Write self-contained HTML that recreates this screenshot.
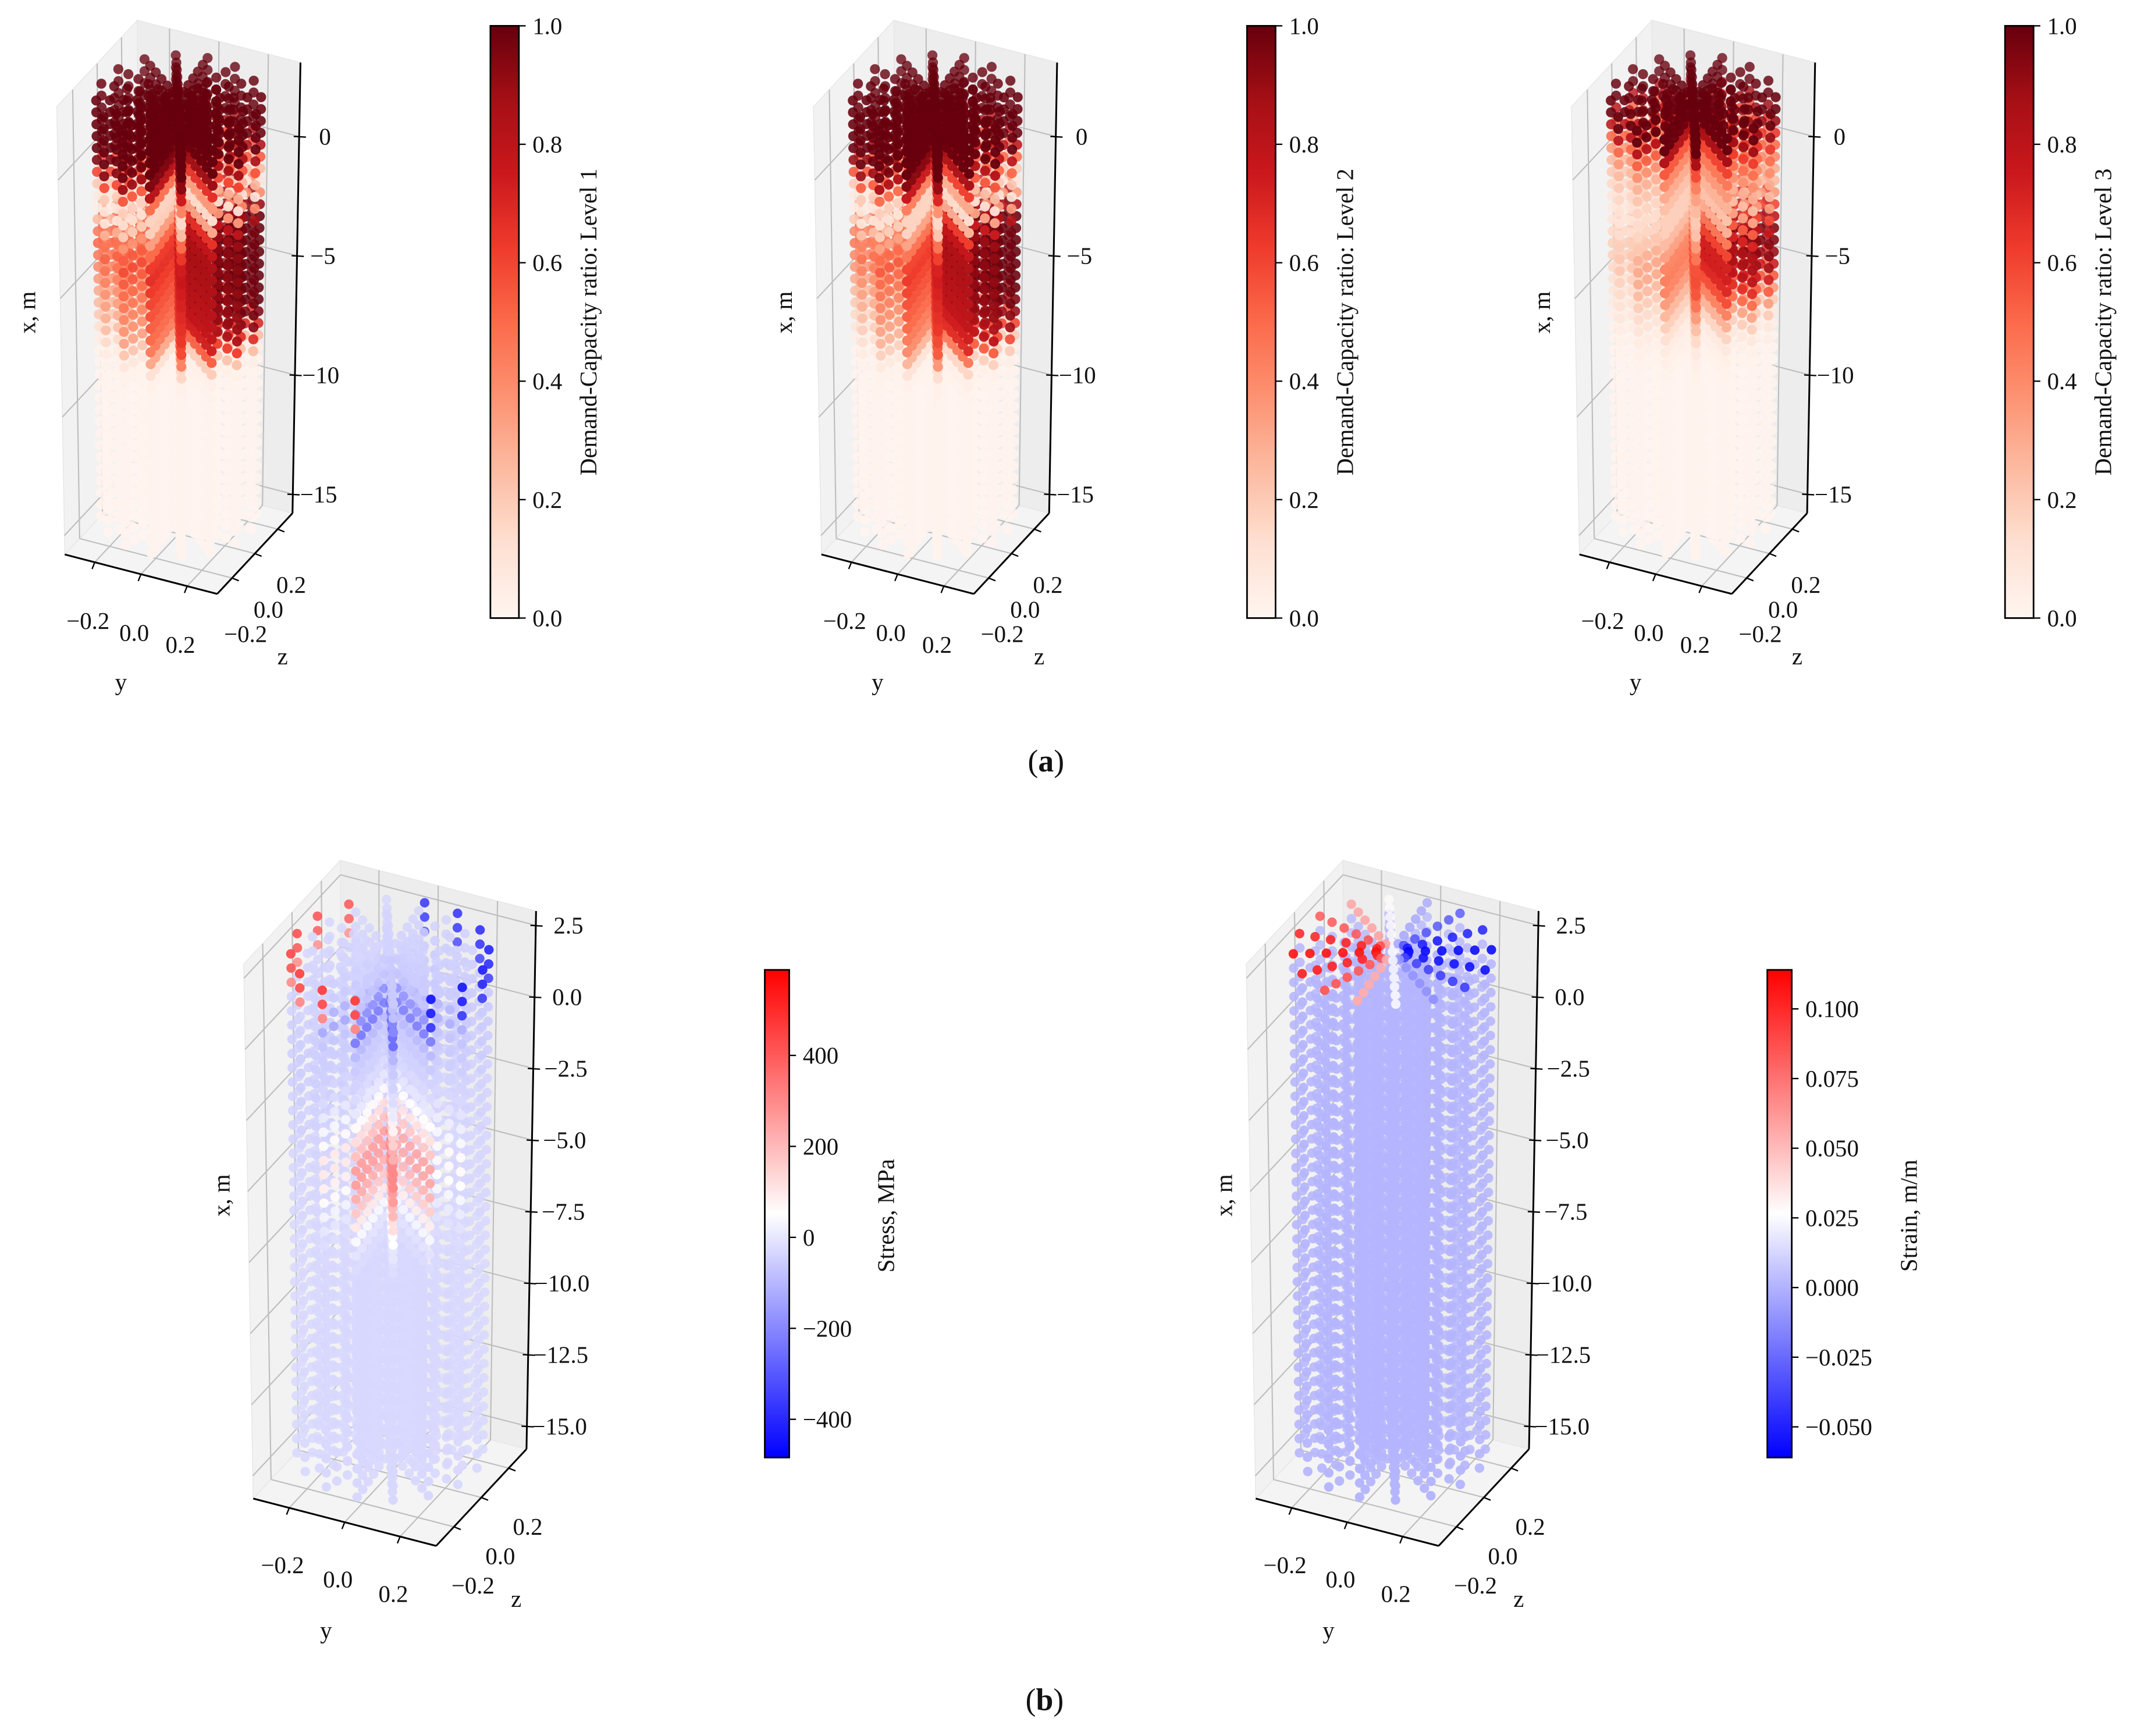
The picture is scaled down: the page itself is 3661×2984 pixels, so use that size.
<!DOCTYPE html>
<html><head><meta charset="utf-8"><style>
html,body{margin:0;padding:0;background:#fff;}
svg{display:block;}
text{font-family:"Liberation Serif",serif;fill:#111;}
</style></head><body>
<svg id="fig" xmlns="http://www.w3.org/2000/svg" width="3661" height="2984" viewBox="0 0 1568 1278">
<rect x="0" y="0" width="1568" height="1278" fill="#fff"/>
<g id="layer"></g>
<text x="770" y="568" text-anchor="middle" font-size="23">(<tspan font-weight="bold">a</tspan>)</text>
<text x="769" y="1259" text-anchor="middle" font-size="23">(<tspan font-weight="bold">b</tspan>)</text>
</svg>
<script>
// ---- data ----
const levelsX = [2.5,2,1.5,1,0.5,0,-0.5,-1,-1.5,-2,-2.5,-3,-3.5,-4,-4.5,-5,-5.5,-6,-6.5,-7,-7.5,-8,-8.5,-9,-9.5,-10,-10.5,-11,-11.5,-12,-12.5,-13,-13.5,-14,-14.5,-15];
const a1Left  = [1,1,1,1,1,0.95,0.6,0.2,0.08,0.06,0.25,0.45,0.5,0.45,0.4,0.35,0.3,0.25,0.2,0.12,0.05,0.02,0.01,0.01,0.01,0.01,0.01,0.01,0.01,0.01,0.01,0.01,0.01,0.01,0.01,0.01];
const a1Right = [1,1,1,1,0.85,0.55,0.25,0.1,0.4,0.9,1,1,1,1,1,1,1,1,0.95,0.7,0.25,0.04,0.02,0.01,0.01,0.01,0.01,0.01,0.01,0.01,0.01,0.01,0.01,0.01,0.01,0.01];
const a2Left  = [1,1,1,1,1,0.9,0.55,0.2,0.07,0.06,0.2,0.4,0.45,0.4,0.35,0.3,0.25,0.2,0.15,0.1,0.05,0.02,0.01,0.01,0.01,0.01,0.01,0.01,0.01,0.01,0.01,0.01,0.01,0.01,0.01,0.01];
const a2Right = [1,1,1,1,0.8,0.5,0.2,0.1,0.35,0.85,1,1,1,1,1,1,1,0.95,0.9,0.6,0.2,0.04,0.02,0.01,0.01,0.01,0.01,0.01,0.01,0.01,0.01,0.01,0.01,0.01,0.01,0.01];
const a3Left  = [1,1,0.8,0.5,0.35,0.25,0.2,0.15,0.1,0.08,0.1,0.15,0.18,0.18,0.15,0.12,0.1,0.08,0.05,0.03,0.02,0.01,0.01,0.01,0.01,0.01,0.01,0.01,0.01,0.01,0.01,0.01,0.01,0.01,0.01,0.01];
const a3Right = [1,1,0.9,0.65,0.5,0.4,0.3,0.25,0.35,0.6,0.8,0.95,0.95,0.9,0.75,0.55,0.35,0.2,0.08,0.04,0.02,0.01,0.01,0.01,0.01,0.01,0.01,0.01,0.01,0.01,0.01,0.01,0.01,0.01,0.01,0.01];
const stressLeft  = [-35,-40,-40,-40,-45,-50,-50,-50,-50,-50,-45,-45,-40,-40,-35,-35,-35,-35,-35,-30,-30,-30,-30,-30,-30,-30,-30,-30,-30,-30,-30,-30,-30,-30,-30,-30];
const stressRight = [-45,-50,-60,-60,-60,-60,-55,-50,-45,-40,-40,-40,-35,-35,-35,-35,-35,-35,-30,-30,-30,-30,-30,-30,-30,-30,-30,-30,-30,-30,-30,-30,-30,-30,-30,-30];
const stressRimLeft  = [450,420,300,0,0,0,0,0,0,0,0,0,0,0,0,0,0,0,0,0,0,0,0,0,0,0,0,0,0,0,0,0,0,0,0,0];
const stressRimRight = [-420,-400,-350,0,0,0,0,0,0,0,0,0,0,0,0,0,0,0,0,0,0,0,0,0,0,0,0,0,0,0,0,0,0,0,0,0];
const stressNear  = [-60,-80,-200,-250,-100,-60,-40,-20,10,80,150,220,300,300,260,200,120,50,0,-20,-30,-30,-30,-30,-30,-30,-30,-30,-30,-30,-30,-30,-30,-30,-30,-30];
const strainLeft  = [0.11,0.001,0.001,0.001,0.001,0.001,0.001,0.001,0.001,0.001,0.001,0.001,0.001,0.001,0.001,0.001,0.001,0.001,0.001,0.001,0.001,0.001,0.001,0.001,0.001,0.001,0.001,0.001,0.001,0.001,0.001,0.001,0.001,0.001,0.001,0.001];
const strainRight = [-0.06,0.001,0.001,0.001,0.001,0.001,0.001,0.001,0.001,0.001,0.001,0.001,0.001,0.001,0.001,0.001,0.001,0.001,0.001,0.001,0.001,0.001,0.001,0.001,0.001,0.001,0.001,0.001,0.001,0.001,0.001,0.001,0.001,0.001,0.001,0.001];
const dcrTicks = [0,0.2,0.4,0.6,0.8,1.0];
const dcrTickLabels = ["0.0","0.2","0.4","0.6","0.8","1.0"];
const stressTicks = [-400,-200,0,200,400];
const stressTickLabels = ["\u2212400","\u2212200","0","200","400"];
const strainTicks = [-0.05,-0.025,0,0.025,0.05,0.075,0.1];
const strainTickLabels = ["\u22120.050","\u22120.025","0.000","0.025","0.050","0.075","0.100"];
const xTicksA = [0,-5,-10,-15];
const xTickLabelsA = ["0","\u22125","\u221210","\u221215"];
const xTicksB = [2.5,0,-2.5,-5,-7.5,-10,-12.5,-15];
const xTickLabelsB = ["2.5","0.0","\u22122.5","\u22125.0","\u22127.5","\u221210.0","\u221212.5","\u221215.0"];
const yzTicks = [-0.2,0,0.2];
const yzTickLabels = ["\u22120.2","0.0","0.2"];

// ---- colormaps ----
const redsStops = [[255,245,240],[254,224,210],[252,187,161],[252,146,114],[251,106,74],[239,59,44],[203,24,29],[165,15,21],[103,0,13]];
function reds(t){t=Math.max(0,Math.min(1,t));const f=t*8,i=Math.min(7,Math.floor(f)),u=f-i;const a=redsStops[i],b=redsStops[i+1];
  return 'rgb('+a.map((c,k)=>Math.round(c+(b[k]-c)*u)).join(',')+')';}
function bwr(t){t=Math.max(0,Math.min(1,t));let r,g,b;if(t<0.5){r=g=2*t;b=1;}else{r=1;g=b=2*(1-t);}
  return 'rgb('+Math.round(r*255)+','+Math.round(g*255)+','+Math.round(b*255)+')';}

const NS='http://www.w3.org/2000/svg';
const layer=document.getElementById('layer');
function el(tag,attrs,parent){const e=document.createElementNS(NS,tag);for(const k in attrs)e.setAttribute(k,attrs[k]);(parent||layer).appendChild(e);return e;}

const R=0.33, RC=0.3;
function makeProj(P){return function(y,z,x){const u=(x-P.xmin)/(P.xmax-P.xmin);const p=1+0.07*u;const s=P.s;
  return [P.cx+p*s*(170*y+84*z), P.cy+p*s*(44*y-90*z)-s*17.5*(x-P.xmin)];};}

function drawPanel(P){
  const g=el('g',{});
  
  
  const pr=makeProj(P);
  const xb=P.xmin, xt=P.xmax;
  const pt=(a)=>a.map(v=>v[0].toFixed(1)+','+v[1].toFixed(1)).join(' ');
  const lw=el('polygon',{points:pt([pr(-R,-R,xb),pr(-R,R,xb),pr(-R,R,xt),pr(-R,-R,xt)]),fill:'#f2f2f2',stroke:'#e6e6e6','stroke-width':0.6},g);
  
  
  const bw=el('polygon',{points:pt([pr(-R,R,xb),pr(R,R,xb),pr(R,R,xt),pr(-R,R,xt)]),fill:'#ededed',stroke:'#e6e6e6','stroke-width':0.6},g);
  
  
  const fl=el('polygon',{points:pt([pr(-R,-R,xb),pr(R,-R,xb),pr(R,R,xb),pr(-R,R,xb)]),fill:'#f4f4f4',stroke:'#e6e6e6','stroke-width':0.6},g);
  
  
  const gl=(a,b,nm)=>{const l=el('line',{x1:a[0],y1:a[1],x2:b[0],y2:b[1],stroke:'#bdbdbd','stroke-width':0.9},g);
    
    };
  P.xt.forEach(x=>{gl(pr(-R,-R,x),pr(-R,R,x),'grid-x');gl(pr(-R,R,x),pr(R,R,x),'grid-x');});
  yzTicks.forEach(t=>{gl(pr(-R,t,xb),pr(-R,t,xt),'grid-z');gl(pr(t,R,xb),pr(t,R,xt),'grid-y');
    gl(pr(t,-R,xb),pr(t,R,xb),'grid-y');gl(pr(-R,t,xb),pr(R,t,xb),'grid-z');});
  const pts=[];
  const nA=16, nR=6;
  levelsX.forEach((x,i)=>{
    const rings=[[0,0,0]];
    for(let a=0;a<nA;a++){const th=a*2*Math.PI/nA+0.1;for(let j=1;j<=nR;j++){const r=RC*j/nR;rings.push([r*Math.cos(th),r*Math.sin(th),j]);}}
    rings.forEach(([y,z,j])=>{
      const r=Math.hypot(y,z);
      const proj=r>0?(0.897*y+0.443*z)/r:0;
      const near=r>0?(0.443*y-0.897*z)/r:0;
      const wR=(1+proj)/2;
      let v=P.left[i]*(1-wR)+P.right[i]*wR;
      if(P.near){const wn=Math.max(0,near-0.55)/0.45*(r>0.04?1:0);v=v*(1-wn)+P.near[i]*wn;}
      if(P.rimL && j===nR && (P.rimL[i]!==0||P.rimR[i]!==0)){
        if(proj<-0.2) v=P.rimL[i]; else if(proj>0.2) v=P.rimR[i];
      }
      const depth=0.94*(0.443*y-0.897*z)+0.34*x;
      pts.push({y,z,x,v,depth,near:(0.443*y-0.897*z)/RC,i});
    });
  });
  pts.sort((a,b)=>a.depth-b.depth);
  pts.forEach(p=>{
    const s=pr(p.y,p.z,p.x);
    const c=el('circle',{cx:s[0].toFixed(1),cy:s[1].toFixed(1),r:P.dot,fill:P.cmap(P.norm(p.v)),'fill-opacity':(0.75+0.25*(p.near+1)/2).toFixed(2)},g);
    
    
  });
  const ax=(a,b,nm)=>{const l=el('line',{x1:a[0],y1:a[1],x2:b[0],y2:b[1],stroke:'#000','stroke-width':1.3},g);
    
    };
  ax(pr(-R,-R,xb),pr(R,-R,xb),'y-axis-line');
  ax(pr(R,-R,xb),pr(R,R,xb),'z-axis-line');
  ax(pr(R,R,xb),pr(R,R,xt),'x-axis-line');
  const fs=17.5;
  P.xt.forEach((x,k)=>{const q=pr(R,R,x);
    const tk=el('line',{x1:q[0]-4,y1:q[1],x2:q[0]+5,y2:q[1]+0.5,stroke:'#000','stroke-width':1},g);
    
    
    const t=el('text',{x:q[0]+P.lblOff,y:q[1]+6,'font-size':fs,'text-anchor':'middle'},g);t.textContent=P.xl[k];
    
    });
  yzTicks.forEach((v,k)=>{
    const q=pr(v,-R,xb);
    const tk=el('line',{x1:q[0],y1:q[1],x2:q[0]-2,y2:q[1]+5,stroke:'#000','stroke-width':1},g);
    
    
    const t=el('text',{x:q[0]-5,y:q[1]+P.yOff+6,'font-size':fs,'text-anchor':'middle'},g);t.textContent=yzTickLabels[k];
    
    
    const q2=pr(R,v,xb);
    const tk2=el('line',{x1:q2[0],y1:q2[1],x2:q2[0]+5,y2:q2[1]+2,stroke:'#000','stroke-width':1},g);
    
    
    const t2=el('text',{x:q2[0]+P.zOff[0],y:q2[1]+P.zOff[1]+6,'font-size':fs,'text-anchor':'middle'},g);t2.textContent=yzTickLabels[k];
    
    
  });
  const ty=el('text',{x:P.yLab[0],y:P.yLab[1]+6,'font-size':fs,'text-anchor':'middle'},g);ty.textContent='y';
  
  
  const tz=el('text',{x:P.zLab[0],y:P.zLab[1]+6,'font-size':fs,'text-anchor':'middle'},g);tz.textContent='z';
  
  
  const tx=el('text',{x:0,y:0,'font-size':fs,'text-anchor':'middle',transform:'translate('+(P.xLab[0]+6)+','+P.xLab[1]+') rotate(-90)'},g);tx.textContent='x, m';
  
  
  const CB=P.cb, gid='grad-'+P.name;
  const defs=el('defs',{},g);
  const lg=el('linearGradient',{id:gid,x1:0,y1:1,x2:0,y2:0},defs);
  for(let k=0;k<=40;k++){el('stop',{offset:(k/40),'stop-color':P.cmap(k/40)},lg);}
  const rb=el('rect',{x:CB.x,y:CB.y0,width:CB.w,height:CB.y1-CB.y0,fill:'url(#'+gid+')',stroke:'#000','stroke-width':1.2},g);
  
  
  P.cbTicks.forEach((v,k)=>{const yy=CB.y1-(CB.y1-CB.y0)*P.norm(v);
    const tk=el('line',{x1:CB.x+CB.w,y1:yy,x2:CB.x+CB.w+5,y2:yy,stroke:'#000','stroke-width':1},g);
    
    
    const t=el('text',{x:CB.x+CB.w+10,y:yy+6,'font-size':fs},g);t.textContent=P.cbLabels[k];
    
    });
  const tl=el('text',{x:0,y:0,'font-size':fs,'text-anchor':'middle',transform:'translate('+(CB.lx+6)+','+CB.ly+') rotate(-90)'},g);tl.textContent=P.cbTitle;
  
  
}

const dnorm=v=>v;
const snorm=v=>(v+484)/(588+484);
const enorm=v=>(v+0.061)/(0.114+0.061);
[['panel-level-1',0,a1Left,a1Right,'Demand-Capacity ratio: Level 1'],
 ['panel-level-2',557,a2Left,a2Right,'Demand-Capacity ratio: Level 2'],
 ['panel-level-3',1115,a3Left,a3Right,'Demand-Capacity ratio: Level 3']].forEach(([nm,dx,L,Rr,title])=>{
  drawPanel({name:nm,s:1,cx:131.5+dx,cy:393,xmin:-15.8,xmax:3.1,dot:3.7,left:L,right:Rr,near:null,cmap:reds,norm:dnorm,
    xt:xTicksA,xl:xTickLabelsA,lblOff:19,yOff:43,zOff:[10,41],yLab:[89+dx,502],zLab:[208+dx,483],xLab:[20+dx,230],
    cb:{x:361+dx,w:21,y0:19,y1:455,lx:433+dx,ly:237},cbTicks:dcrTicks,cbLabels:dcrTickLabels,cbTitle:title});
});
drawPanel({name:'panel-stress',s:1.2,cx:287,cy:1085,xmin:-15.8,xmax:3.0,dot:3.5,left:stressLeft,right:stressRight,near:stressNear,rimL:stressRimLeft,rimR:stressRimRight,cmap:bwr,norm:snorm,
  xt:xTicksB,xl:xTickLabelsB,lblOff:24,yOff:42,zOff:[14,43],yLab:[240,1200],zLab:[380,1177],xLab:[163,880],
  cb:{x:563,w:18,y0:714,y1:1073,lx:652,ly:895},cbTicks:stressTicks,cbLabels:stressTickLabels,cbTitle:'Stress, MPa'});
drawPanel({name:'panel-strain',s:1.2,cx:1025,cy:1085,xmin:-15.8,xmax:3.0,dot:3.5,left:strainLeft,right:strainRight,near:null,cmap:bwr,norm:enorm,
  xt:xTicksB,xl:xTickLabelsB,lblOff:24,yOff:42,zOff:[14,43],yLab:[978,1200],zLab:[1118,1177],xLab:[901,880],
  cb:{x:1301,w:18,y0:714,y1:1073,lx:1405,ly:895},cbTicks:strainTicks,cbLabels:strainTickLabels,cbTitle:'Strain, m/m'});
</script>
</body></html>
